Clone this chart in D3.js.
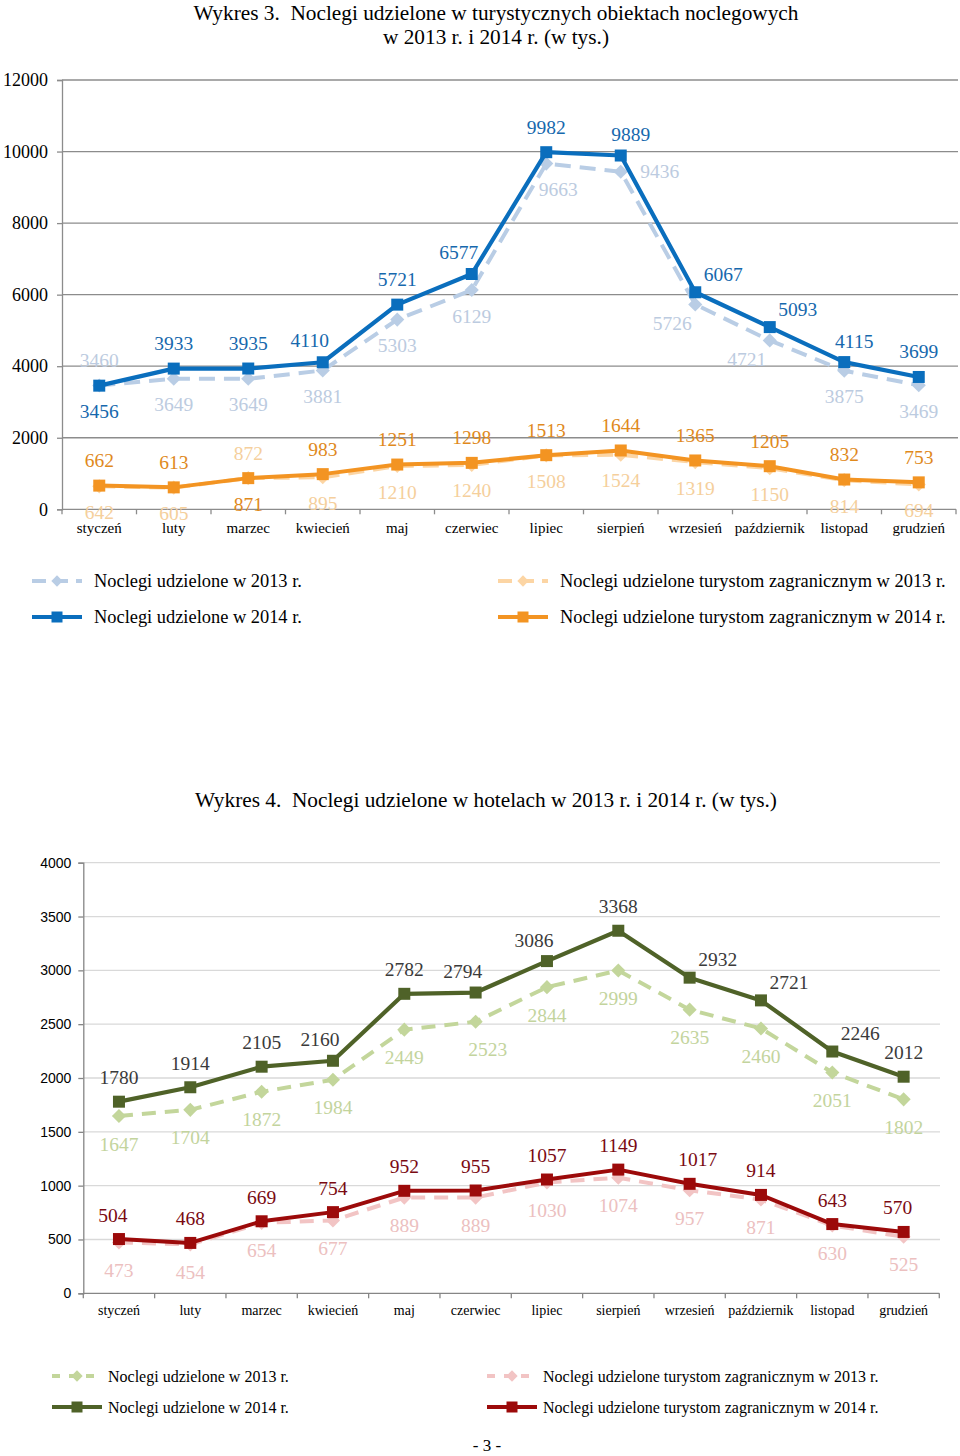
<!DOCTYPE html>
<html>
<head>
<meta charset="utf-8">
<script src="https://cdn.jsdelivr.net/npm/d3@7"></script>
<style>
  html, body { margin: 0; padding: 0; background: #fff; }
  svg { display: block; }
  .pre { white-space: pre; }
</style>
</head>
<body>
<svg id="page" width="960" height="1456"></svg>
<script>
// ---------------- DATA ----------------
const months = ["styczeń","luty","marzec","kwiecień","maj","czerwiec","lipiec","sierpień","wrzesień","październik","listopad","grudzień"];

// Wykres 3
const c1Total2013   = [3460, 3649, 3649, 3881, 5303, 6129, 9663, 9436, 5726, 4721, 3875, 3469];
const c1Total2014   = [3456, 3933, 3935, 4110, 5721, 6577, 9982, 9889, 6067, 5093, 4115, 3699];
const c1Foreign2013 = [642, 605, 872, 895, 1210, 1240, 1508, 1524, 1319, 1150, 814, 694];
const c1Foreign2014 = [662, 613, 871, 983, 1251, 1298, 1513, 1644, 1365, 1205, 832, 753];
const c1YTicks = [0, 2000, 4000, 6000, 8000, 10000, 12000];

// Wykres 4
const c2Hotels2013  = [1647, 1704, 1872, 1984, 2449, 2523, 2844, 2999, 2635, 2460, 2051, 1802];
const c2Hotels2014  = [1780, 1914, 2105, 2160, 2782, 2794, 3086, 3368, 2932, 2721, 2246, 2012];
const c2Foreign2013 = [473, 454, 654, 677, 889, 889, 1030, 1074, 957, 871, 630, 525];
const c2Foreign2014 = [504, 468, 669, 754, 952, 955, 1057, 1149, 1017, 914, 643, 570];
const c2YTicks = [0, 500, 1000, 1500, 2000, 2500, 3000, 3500, 4000];

const legendNames = [
  "Noclegi udzielone w 2013 r.",
  "Noclegi udzielone turystom zagranicznym w 2013 r.",
  "Noclegi udzielone w 2014 r.",
  "Noclegi udzielone turystom zagranicznym w 2014 r."
];

// label placement codes (t = above, b = below, tl/tr/r/R/bl/br variants)
const c1Place = {
  t13: ["t","b","b","b","b","b","br","R","bl","bl","b","b"],
  f13: ["b","b","t","b","b","b","b","b","b","b","b","b"],
  t14: ["b","t","t","tl","t","tl","t","tr","r","r","tr","t"],
  f14: ["t","t","b","t","t","t","t","t","t","t","t","t"]
};
const c2Place = {
  t13: ["b","b","b","b","b","br","b","b","b","b","b","b"],
  f13: ["b","b","b","b","b","b","b","b","b","b","b","b"],
  t14: ["t","t","t","tl","t","tl","tl","t","r","r","r","t"],
  f14: ["sl","t","t","t","t","t","t","t","sr","t","t","sl"]
};

// ---------------- DRAWING ----------------
const svg = d3.select("#page");
const serif = "'Liberation Serif','Times New Roman',serif";
const sans = "'Liberation Sans',Arial,sans-serif";

function offsets(code, up, down) {
  const m = {
    t: [0, -up], b: [0, down],
    tl: [-13, -up + 3], tr: [10, -up + 4],
    sl: [-6, -up], sr: [8, -up],
    r: [28, -18], R: [39, 0],
    bl: [-23, down - 7], br: [12, down]
  };
  return m[code] || [0, -up];
}

function drawChart(cfg) {
  const g = svg.append("g");
  const x = d3.scaleBand().domain(months).range([cfg.x0, cfg.x1]).padding(0);
  const y = d3.scaleLinear().domain([cfg.yTicks[0], cfg.yTicks[cfg.yTicks.length - 1]]).range([cfg.yBottom, cfg.yTop]);
  const cx = m => x(m) + x.bandwidth() / 2;

  // title
  cfg.title.forEach((t, i) => {
    g.append("text").attr("class", "pre").attr("x", cfg.titleX).attr("y", cfg.titleY + i * 24)
      .attr("text-anchor", "middle").attr("font-family", serif).attr("font-size", 21.3)
      .attr("fill", "#000").text(t);
  });

  // gridlines
  g.append("g").selectAll("line").data(cfg.yTicks.filter(v => v !== 0)).join("line")
    .attr("x1", cfg.x0).attr("x2", cfg.gridRight)
    .attr("y1", d => y(d)).attr("y2", d => y(d))
    .attr("stroke", cfg.gridColor).attr("stroke-width", 1.3);

  // y axis
  const ya = g.append("g").attr("transform", `translate(${cfg.x0},0)`)
    .call(d3.axisLeft(y).tickValues(cfg.yTicks).tickFormat(d3.format("d")).tickSize(5).tickPadding(cfg.yPad));
  ya.select(".domain").attr("stroke", cfg.axisColor).attr("stroke-width", 1.3);
  ya.selectAll(".tick line").attr("stroke", cfg.axisColor).attr("stroke-width", 1.3);
  ya.selectAll(".tick text").attr("font-family", cfg.yFont).attr("font-size", cfg.yFontSize).attr("fill", "#000");

  // x axis
  const xa = g.append("g").attr("transform", `translate(0,${cfg.yBottom})`);
  xa.append("line").attr("x1", cfg.x0).attr("x2", cfg.x1).attr("y1", 0).attr("y2", 0)
    .attr("stroke", cfg.axisColor).attr("stroke-width", 1.3);
  const bounds = months.map(m => x(m)).concat([cfg.x1]);
  xa.selectAll("line.tk").data(bounds).join("line").attr("class", "tk")
    .attr("x1", d => d).attr("x2", d => d).attr("y1", 0).attr("y2", 5)
    .attr("stroke", cfg.axisColor).attr("stroke-width", 1.3);
  xa.selectAll("text").data(months).join("text")
    .attr("x", d => cx(d)).attr("y", cfg.xLabelDy).attr("text-anchor", "middle")
    .attr("dominant-baseline", "central")
    .attr("font-family", serif).attr("font-size", cfg.xFontSize).attr("fill", "#000").text(d => d);

  const line = d3.line().x((d, i) => cx(months[i])).y(d => y(d));

  // series lines + markers
  cfg.series.forEach(s => {
    g.append("path").datum(s.values).attr("d", line).attr("fill", "none")
      .attr("stroke", s.color).attr("stroke-width", s.width)
      .attr("stroke-dasharray", s.dashed ? cfg.dash : null)
      .attr("stroke-linejoin", "round");
    g.append("g").selectAll("path").data(s.values).join("path")
      .attr("d", d3.symbol(d3.symbolSquare, s.dashed ? 100 : 144)())
      .attr("transform", (d, i) => `translate(${cx(months[i])},${y(d)})` + (s.dashed ? " rotate(45)" : ""))
      .attr("fill", s.color);
  });

  // data labels
  cfg.series.forEach(s => {
    g.append("g").selectAll("text").data(s.values).join("text")
      .attr("x", (d, i) => cx(months[i]) + offsets(s.place[i], cfg.up, cfg.down)[0])
      .attr("y", (d, i) => y(d) + offsets(s.place[i], cfg.up, cfg.down)[1])
      .attr("text-anchor", "middle").attr("dominant-baseline", "central")
      .attr("font-family", serif).attr("font-size", 19.5).attr("fill", s.labelColor)
      .text(d => d);
  });

  // legend
  cfg.series.forEach((s, k) => {
    const col = k % 2, row = Math.floor(k / 2);
    const lx = cfg.legendX[col], ly = cfg.legendY[row];
    const lg = g.append("g");
    lg.append("line").attr("x1", lx).attr("x2", lx + 50).attr("y1", ly).attr("y2", ly)
      .attr("stroke", s.color).attr("stroke-width", s.width)
      .attr("stroke-dasharray", s.dashed ? cfg.legendDash : null);
    lg.append("path").attr("d", d3.symbol(d3.symbolSquare, s.dashed ? 64 : 121)())
      .attr("transform", `translate(${lx + 25},${ly})` + (s.dashed ? " rotate(45)" : ""))
      .attr("fill", s.color);
    lg.append("text").attr("x", lx + cfg.legendTextGap).attr("y", ly)
      .attr("dominant-baseline", "central").attr("font-family", serif)
      .attr("font-size", cfg.legendFontSize).attr("fill", "#000").text(legendNames[k]);
  });
}

drawChart({
  title: ["Wykres 3.  Noclegi udzielone w turystycznych obiektach noclegowych", "w 2013 r. i 2014 r. (w tys.)"],
  titleX: 496, titleY: 19.5,
  x0: 62, x1: 956, gridRight: 958, yTop: 80, yBottom: 509.3,
  yTicks: c1YTicks, yPad: 9, yFont: serif, yFontSize: 18,
  gridColor: "#8c8c8c", axisColor: "#8c8c8c",
  xLabelDy: 19, xFontSize: 15,
  dash: "16,9", legendDash: "14,8",
  up: 25, down: 26,
  legendX: [32, 498], legendY: [581, 617], legendTextGap: 62, legendFontSize: 18.4,
  series: [
    { values: c1Total2013,   color: "#b9cde5", labelColor: "#bccbe0", dashed: true,  width: 4,   place: c1Place.t13 },
    { values: c1Foreign2013, color: "#fcd5a4", labelColor: "#f5cf9c", dashed: true,  width: 4,   place: c1Place.f13 },
    { values: c1Total2014,   color: "#0a6ebd", labelColor: "#1668ad", dashed: false, width: 4.2, place: c1Place.t14 },
    { values: c1Foreign2014, color: "#f39422", labelColor: "#e0891c", dashed: false, width: 4,   place: c1Place.f14 }
  ]
});

drawChart({
  title: ["Wykres 4.  Noclegi udzielone w hotelach w 2013 r. i 2014 r. (w tys.)"],
  titleX: 486, titleY: 807,
  x0: 83.3, x1: 939.3, gridRight: 940, yTop: 862.7, yBottom: 1293.3,
  yTicks: c2YTicks, yPad: 7, yFont: sans, yFontSize: 14,
  gridColor: "#d9d9d9", axisColor: "#868686",
  xLabelDy: 17, xFontSize: 14,
  dash: "14,9", legendDash: "8,9",
  up: 24, down: 28,
  legendX: [52, 487], legendY: [1376, 1407], legendTextGap: 56, legendFontSize: 16,
  series: [
    { values: c2Hotels2013,  color: "#c3d69b", labelColor: "#c3d49d", dashed: true,  width: 4,   place: c2Place.t13 },
    { values: c2Foreign2013, color: "#f2c4c4", labelColor: "#ecc0c0", dashed: true,  width: 4,   place: c2Place.f13 },
    { values: c2Hotels2014,  color: "#4f6228", labelColor: "#3a3a3a", dashed: false, width: 4.2, place: c2Place.t14 },
    { values: c2Foreign2014, color: "#9c0a0a", labelColor: "#7a0a12", dashed: false, width: 4,   place: c2Place.f14 }
  ]
});

// page number
svg.append("text").attr("x", 487).attr("y", 1445).attr("text-anchor", "middle")
  .attr("dominant-baseline", "central").attr("font-family", serif).attr("font-size", 17)
  .attr("fill", "#000").text("- 3 -");
</script>
</body>
</html>
